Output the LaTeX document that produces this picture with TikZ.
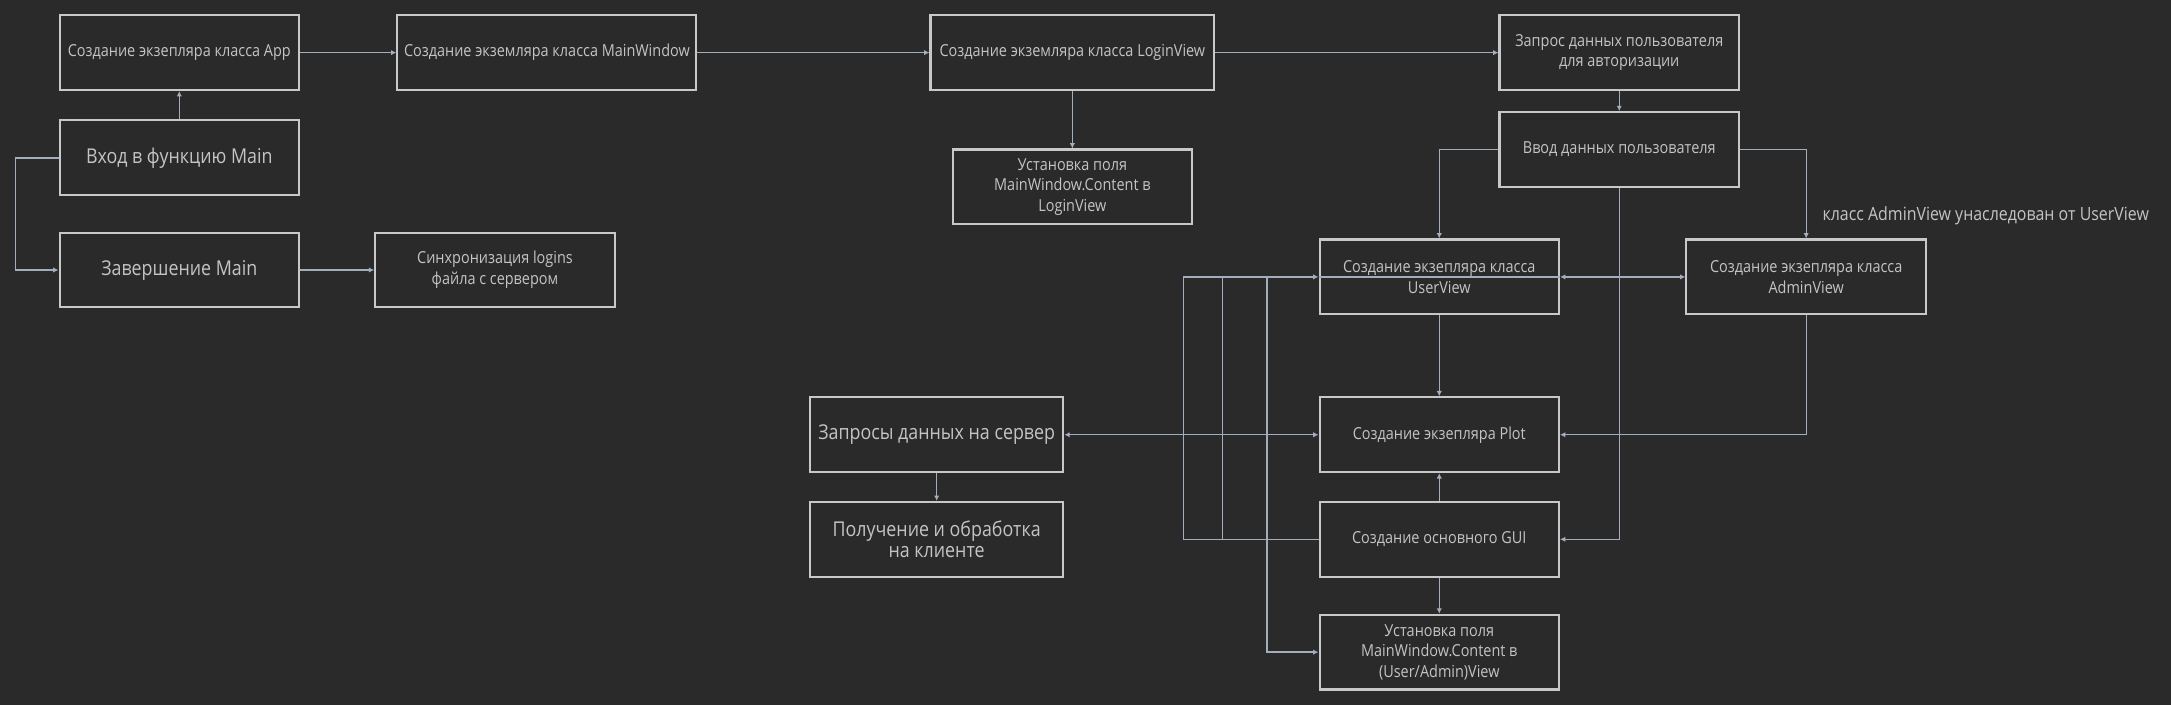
\documentclass[tikz,border=0pt]{standalone}
\usepackage{fontspec}
\setmainfont{Open Sans}[FakeStretch=0.873]
\usetikzlibrary{arrows.meta}
\definecolor{bg}{HTML}{2A2A2A}
\definecolor{bord}{HTML}{C8C8C8}
\definecolor{txt}{HTML}{C4C4C4}
\definecolor{edgec}{HTML}{A2AEBC}
\tikzset{
  box/.style={draw=bord, line width=0.85pt, fill=bg, text=txt, inner sep=1pt, align=center,
    font=\fontsize{6.8}{8.5}\selectfont},
  bigtxt/.style={font=\fontsize{8.4}{8.6}\selectfont},
  sbox/.style={box, minimum width=3.46cm, minimum height=1.08cm},
  edge/.style={draw=edgec, line width=0.55pt},
  arr/.style={edge, -{Latex[length=2.2pt,width=2.2pt]}},
  darr/.style={edge, {Latex[length=2.2pt,width=2.2pt]}-{Latex[length=2.2pt,width=2.2pt]}},
}
\begin{document}
\begin{tikzpicture}[x=0.02cm, y=-0.02cm]
\fill[bg] (0,0) rectangle (1568,509);
\useasboundingbox (0,0) rectangle (1568,509);

% nodes
\node[sbox] (app) at (129.5,38) {Создание экзепляра класса App};
\node[sbox, bigtxt] (entry) at (129.5,114) {Вход в функцию Main};
\node[sbox, bigtxt] (finish) at (129.5,195) {Завершение Main};
\node[sbox] (sync) at (357.5,195) {Синхронизация logins\\файла с сервером};
\node[box, minimum width=4.32cm, minimum height=1.08cm] (mainwin) at (395,38) {Создание экземляра класса MainWindow};
\node[box, minimum width=4.1cm, minimum height=1.08cm] (login) at (774.5,38) {Создание экземляра класса LoginView};
\node[sbox] (loginset) at (774.5,135) {Установка поля\\MainWindow.Content в\\LoginView};
\node[sbox] (request) at (1169.5,38) {Запрос данных пользователя\\для авторизации};
\node[sbox] (input) at (1169.5,108) {Ввод данных пользователя};
\node[sbox] (user) at (1039.5,200) {Создание экзепляра класса\\UserView};
\node[sbox] (admin) at (1304.5,200) {Создание экзепляра класса\\AdminView};
\node[sbox] (plot) at (1039.5,314) {Создание экзепляра Plot};
\node[sbox] (gui) at (1039.5,389.5) {Создание основного GUI};
\node[sbox] (uaset) at (1039.5,471) {Установка поля\\MainWindow.Content в\\(User/Admin)View};
\node[box, bigtxt, minimum width=3.66cm, minimum height=1.08cm] (req) at (676.5,314) {Запросы данных на сервер};
\node[box, bigtxt, minimum width=3.66cm, minimum height=1.08cm] (recv) at (676.5,389.5) {Получение и обработка\\на клиенте};
\node[anchor=west, inner sep=0pt, text=txt, font=\fontsize{7.5}{9}\selectfont] (note) at (1316,156) {класс AdminView унаследован от UserView};

% bus coordinates
\coordinate (b1) at (855,0);
\coordinate (b2) at (883,0);
\coordinate (b3) at (915,0);
\coordinate (lb) at (11,0);

% connectors
\draw[arr] (app.east) -- (mainwin.west);
\draw[arr] (mainwin.east) -- (login.west);
\draw[arr] (login.east) -- (request.west);
\draw[arr] (login.south) -- (loginset.north);
\draw[arr] (entry.north) -- (app.south);
\draw[arr] (entry.west) -- (lb |- entry.west) -- (lb |- finish.west) -- (finish.west);
\draw[arr] (finish.east) -- (sync.west);
\draw[arr] (request.south) -- (input.north);
\draw[arr] (input.west) -| (user.north);
\draw[arr] (input.east) -| (admin.north);
\draw[arr] (input.south) |- (gui.east);
\draw[arr] (user.south) -- (plot.north);
\draw[arr] (gui.north) -- (plot.south);
\draw[arr] (gui.south) -- (uaset.north);
\draw[arr] (req.south) -- (recv.north);
\draw[arr] (admin.south) |- (plot.east);
\draw[darr] (plot.west) -- (req.east);
\draw[arr] (gui.west) -- (b1 |- gui.west) -- (b1 |- user.west) -- (user.west);
\draw[edge] (gui.west) -- (b2 |- gui.west) -- (b2 |- user.west);
\draw[arr] (b3 |- user.west) |- (uaset.west);
\draw[edge] (user.west) -- (user.east);
\draw[darr] (user.east) -- (admin.west);
\end{tikzpicture}
\end{document}
